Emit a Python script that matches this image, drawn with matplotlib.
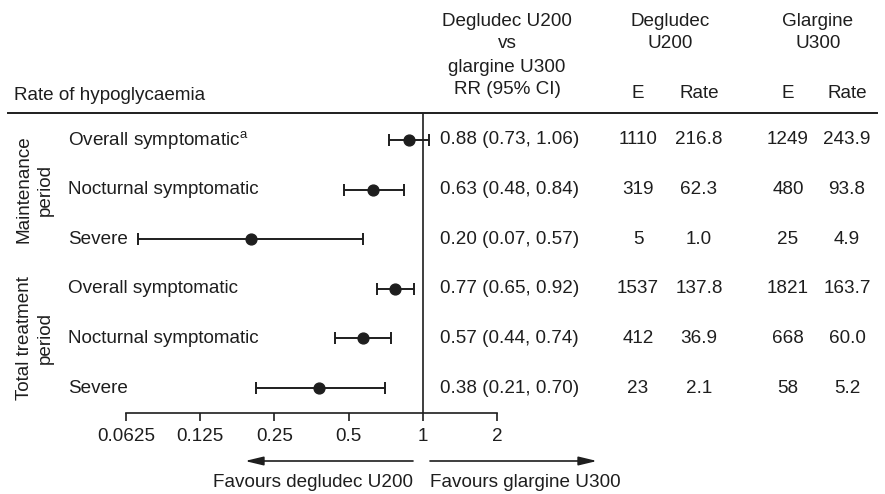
import numpy as np
import matplotlib.pyplot as plt
import matplotlib.transforms as mtransforms

plt.rcParams['font.family'] = ['Liberation Sans', 'DejaVu Sans']
plt.rcParams['mathtext.fontset'] = 'custom'
plt.rcParams['mathtext.rm'] = 'Liberation Sans'
plt.rcParams['mathtext.it'] = 'Liberation Sans'

# Datos del forest plot
etiquetas = ['Overall symptomatic$^{\\mathrm{a}}$', 'Nocturnal symptomatic', 'Severe',
             'Overall symptomatic', 'Nocturnal symptomatic', 'Severe']
rr = [0.88, 0.63, 0.20, 0.77, 0.57, 0.38]
ic_inf = [0.73, 0.48, 0.07, 0.65, 0.44, 0.21]
ic_sup = [1.06, 0.84, 0.57, 0.92, 0.74, 0.70]
deg_e = [1110, 319, 5, 1537, 412, 23]
deg_rate = [216.8, 62.3, 1.0, 137.8, 36.9, 2.1]
gla_e = [1249, 480, 25, 1821, 668, 58]
gla_rate = [243.9, 93.8, 4.9, 163.7, 60.0, 5.2]
grupos = ['Maintenance\nperiod', 'Total treatment\nperiod']
ticks = [0.0625, 0.125, 0.25, 0.5, 1, 2]
tick_labels = ['0.0625', '0.125', '0.25', '0.5', '1', '2']

W, H = 885, 494
FS = 13.6
C = '#1e1e1e'


def fx(x):
    return x / W


def fy(y):
    return 1 - y / H


fig = plt.figure(figsize=(W / 100, H / 100), dpi=100)

# Ejes del forest plot (pixeles: x 126-497, y 113-413)
ax = fig.add_axes([fx(126), fy(413), (497 - 126) / W, (413 - 113) / H])
ax.set_xscale('log', base=2)
ax.set_xlim(0.0625, 2)
ax.set_ylim(5.504, -0.544)
for s in ['top', 'right', 'left']:
    ax.spines[s].set_visible(False)
ax.spines['bottom'].set_linewidth(1.2)
ax.spines['bottom'].set_color(C)
ax.set_yticks([])
ax.set_xticks(ticks)
ax.set_xticklabels(tick_labels, fontsize=FS, color=C)
ax.minorticks_off()
ax.tick_params(axis='x', length=6, width=1.2, color=C, pad=5)
ax.patch.set_alpha(0)

y = np.arange(len(rr))
rr_a = np.array(rr)
err = [rr_a - np.array(ic_inf), np.array(ic_sup) - rr_a]
ax.errorbar(rr, y, xerr=err, fmt='o', color=C, ms=7.8, elinewidth=1.4,
            capsize=4, capthick=1.4, zorder=3, clip_on=False)
ax.axvline(1, color=C, lw=1.2, zorder=2)

# Textos por fila
tr = mtransforms.blended_transform_factory(fig.transFigure, ax.transData)
for i in range(len(rr)):
    fig.text(fx(68), i, etiquetas[i], transform=tr, fontsize=FS, color=C, va='center')
    fig.text(fx(440), i, f'{rr[i]:.2f} ({ic_inf[i]:.2f}, {ic_sup[i]:.2f})',
             transform=tr, fontsize=FS, color=C, va='center')
    fig.text(fx(638), i, str(deg_e[i]), transform=tr, fontsize=FS, color=C, va='center', ha='center')
    fig.text(fx(699), i, f'{deg_rate[i]:.1f}', transform=tr, fontsize=FS, color=C, va='center', ha='center')
    fig.text(fx(788), i, str(gla_e[i]), transform=tr, fontsize=FS, color=C, va='center', ha='center')
    fig.text(fx(847), i, f'{gla_rate[i]:.1f}', transform=tr, fontsize=FS, color=C, va='center', ha='center')

# Etiquetas de grupo
for g, yc in zip(grupos, [1, 4]):
    fig.text(fx(35), yc, g, transform=tr, fontsize=FS, color=C, rotation=90,
             va='center', ha='center', multialignment='center', linespacing=1.35)

# Cabecera
fig.text(fx(14), fy(95), 'Rate of hypoglycaemia', fontsize=FS, color=C, va='center')
for t, yy in zip(['Degludec U200', 'vs', 'glargine U300', 'RR (95% CI)'], [22, 44, 67, 89]):
    fig.text(fx(507), fy(yy), t, fontsize=FS, color=C, va='center', ha='center')
for t, yy in zip(['Degludec', 'U200'], [22, 44]):
    fig.text(fx(670), fy(yy), t, fontsize=FS, color=C, va='center', ha='center')
for t, yy in zip(['Glargine', 'U300'], [22, 44]):
    fig.text(fx(818), fy(yy), t, fontsize=FS, color=C, va='center', ha='center')
for xx, t in zip([638, 699, 788, 847], ['E', 'Rate', 'E', 'Rate']):
    fig.text(fx(xx), fy(94), t, fontsize=FS, color=C, va='center', ha='center')

# Linea de cabecera
fig.add_artist(plt.Line2D([fx(8), fx(877)], [fy(113), fy(113)], color=C, lw=1.4))

# Flechas
estilo = '-|>,head_length=0.5,head_width=0.12'
ax.annotate('', xy=(fx(245), fy(461)), xytext=(fx(413), fy(461)), xycoords='figure fraction',
            arrowprops=dict(arrowstyle=estilo, color=C, lw=1.2,
                            mutation_scale=22, shrinkA=0, shrinkB=0))
ax.annotate('', xy=(fx(597), fy(461)), xytext=(fx(430), fy(461)), xycoords='figure fraction',
            arrowprops=dict(arrowstyle=estilo, color=C, lw=1.2,
                            mutation_scale=22, shrinkA=0, shrinkB=0))
fig.text(fx(413), fy(482), 'Favours degludec U200', fontsize=FS, color=C, va='center', ha='right')
fig.text(fx(430), fy(482), 'Favours glargine U300', fontsize=FS, color=C, va='center', ha='left')

plt.savefig('out.png', dpi=100)
